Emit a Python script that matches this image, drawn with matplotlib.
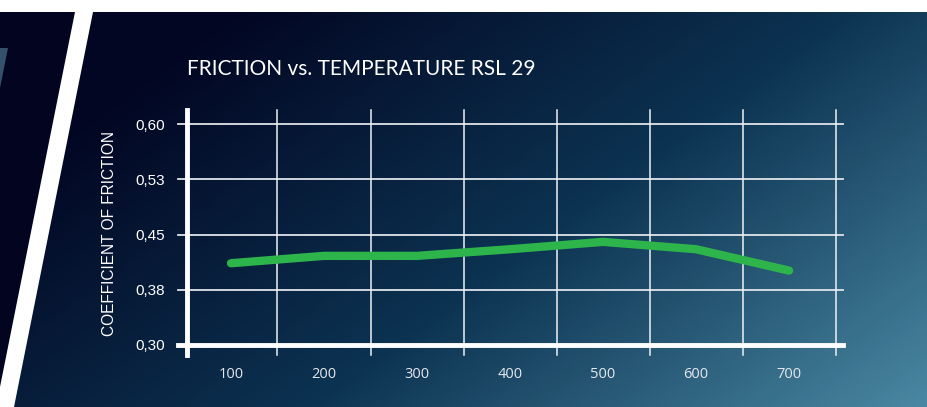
import numpy as np
import matplotlib.pyplot as plt
from matplotlib.colors import LinearSegmentedColormap
from matplotlib.patches import Polygon, Rectangle

# data
temps = [100, 200, 300, 400, 500, 600, 700]
friction = [0.411, 0.421, 0.421, 0.430, 0.440, 0.430, 0.401]
y_ticks = [0.30, 0.375, 0.45, 0.525, 0.60]
y_labels = ["0,30", "0,38", "0,45", "0,53", "0,60"]
x_grid = [150, 250, 350, 450, 550, 650, 750]

W, H = 928, 407
fig = plt.figure(figsize=(W / 100, H / 100), dpi=100)

# background: diagonal navy -> teal gradient
bg = fig.add_axes([0, 0, 1, 1])
bg.set_xlim(0, W)
bg.set_ylim(H, 0)
bg.axis("off")
xx, yy = np.meshgrid(np.arange(W), np.arange(H))
t = np.clip(0.75 * xx / W + 0.45 * yy / H - 0.2, 0, 1)
cmap = LinearSegmentedColormap.from_list("bg", ["#020622", "#0c3352", "#4a88a2"])
bg.imshow(t, cmap=cmap, extent=(0, W, H, 0), aspect="auto", vmin=0, vmax=1)

slope = 0.2
bg.add_patch(Polygon([(0, 12), (75, 12), (75 - slope * 395, 407), (0, 407)],
                     closed=True, color="#020420", lw=0))
bg.add_patch(Polygon([(0, 48), (8, 48), (8 - slope * 40, 88), (0, 88)],
                     closed=True, color="#34506a", lw=0))
bg.add_patch(Polygon([(75, 12), (93, 12), (93 - slope * 395, 407), (75 - slope * 395, 407)],
                     closed=True, color="white", lw=0))
bg.add_patch(Rectangle((0, 0), W, 12, color="white", lw=0))

# chart
left, right, top, bottom = 187, 843, 110, 345
ax = fig.add_axes([left / W, (H - bottom) / H, (right - left) / W, (bottom - top) / H])
ax.patch.set_alpha(0)
xmin, xmax = 52.7, 758
ymin = 0.30
ymax = 0.30 + (bottom - top) / 55.25 * 0.075
ax.set_xlim(xmin, xmax)
ax.set_ylim(ymin, ymax)
for s in ax.spines.values():
    s.set_visible(False)

ext_x = 9 / (right - left)
ext_y = 10 / (bottom - top)
for y in y_ticks[1:]:
    ax.axhline(y, xmin=-ext_x, xmax=1, color="#dfe4ea", lw=1.3, clip_on=False, zorder=1)
for x in x_grid:
    ax.axvline(x, ymin=-ext_y, ymax=1, color="#eef1f4", lw=1.1, clip_on=False, zorder=1)
ax.axhline(ymin, xmin=-ext_x, xmax=1, color="white", lw=3.5, clip_on=False, zorder=3)
ax.axvline(xmin, ymin=-ext_y, ymax=1, color="white", lw=3.5, clip_on=False, zorder=3)

ax.plot(temps, friction, color="#2db44a", lw=6, solid_capstyle="round",
        solid_joinstyle="round", zorder=4, clip_on=False)

ax.set_xticks(temps)
ax.set_xticklabels([str(v) for v in temps], fontfamily="Open Sans", fontsize=10.5, color="#e4e8ec")
ax.set_yticks(y_ticks)
ax.set_yticklabels(y_labels, fontfamily="Liberation Sans", fontsize=11, color="white")
ax.tick_params(axis="x", length=0, pad=16)
ax.tick_params(axis="y", length=0, pad=16)

fig.text(110 / W, (H - 233.5) / H, "COEFFICIENT OF FRICTION", rotation=90,
         ha="center", va="center", fontfamily="Liberation Sans", fontsize=11.2, color="white")
fig.text(187 / W, (H - 75) / H, "FRICTION vs. TEMPERATURE RSL 29", ha="left", va="baseline",
         fontfamily="Lato", fontsize=15, color="white")

fig.savefig("out.png", dpi=100)
